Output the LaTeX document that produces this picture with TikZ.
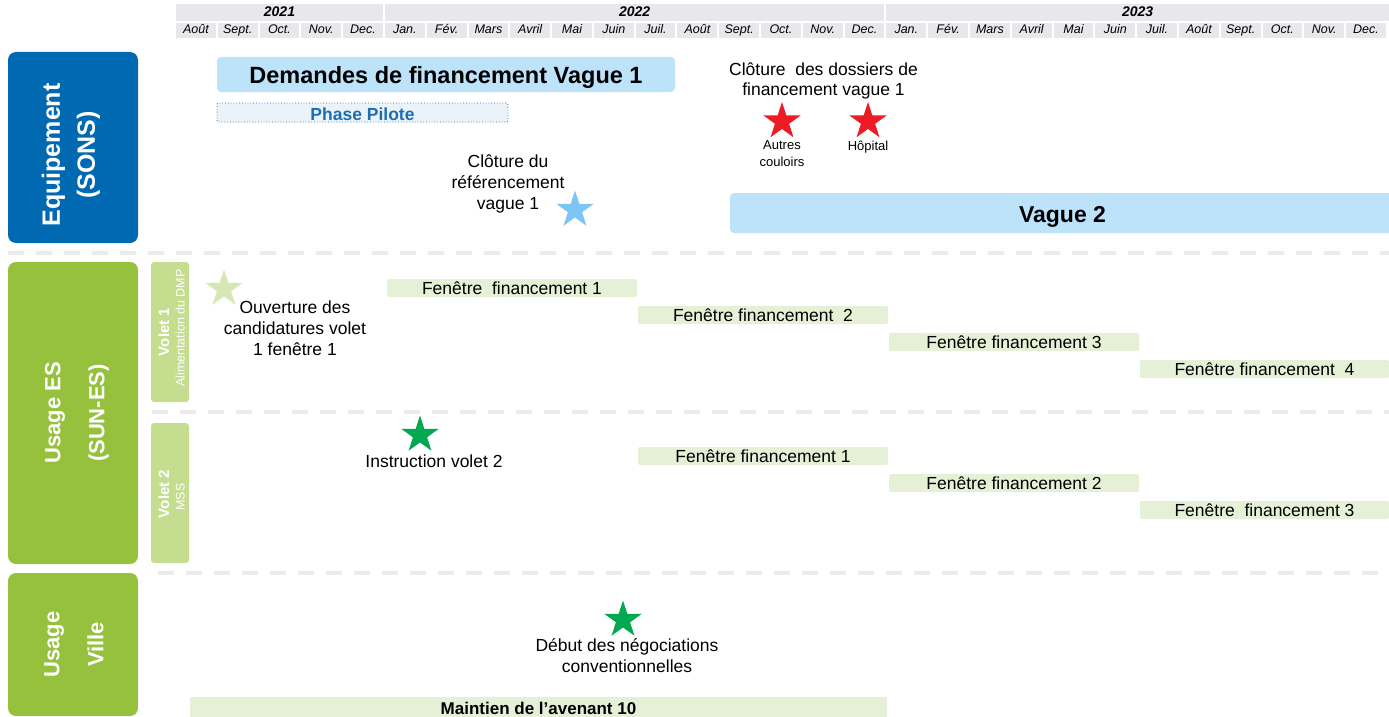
\documentclass[tikz,border=0pt]{standalone}
\usepackage{fontspec}
\setmainfont{Liberation Sans}
\usetikzlibrary{shapes.geometric}
\definecolor{eqblue}{RGB}{0,105,178}
\definecolor{esgreen}{RGB}{150,193,61}
\definecolor{voletgreen}{RGB}{196,221,143}
\definecolor{barblue}{RGB}{189,227,251}
\definecolor{bargreen}{RGB}{230,240,215}
\definecolor{hdrgray}{RGB}{231,231,236}
\definecolor{pilotblue}{RGB}{26,110,180}
\definecolor{pilotfill}{RGB}{236,243,248}
\definecolor{starblue}{RGB}{125,197,245}
\definecolor{starred}{RGB}{237,28,36}
\definecolor{starlight}{RGB}{214,230,181}
\definecolor{stargreen}{RGB}{0,168,80}
\definecolor{sepgray}{RGB}{235,235,235}
\newcommand{\fs}[2]{\fontsize{#1}{#2}\selectfont}
\begin{document}
\begin{tikzpicture}[x=1pt,y=-1pt,
  hcell/.style={fill=hdrgray, inner sep=0pt, outer sep=0pt},
  monthlbl/.style={hcell, minimum width=39.8pt, minimum height=15.5pt, text height=9pt, text depth=2.5pt, font=\fs{12.5}{14}\itshape},
  yearlbl/.style={hcell, minimum height=17pt, text height=10pt, text depth=1pt, font=\fs{14}{16}\bfseries\itshape},
  lanebox/.style={rounded corners=8pt, inner sep=0pt, minimum width=130pt},
  lanetext/.style={inner sep=0pt, text=white, align=center, rotate=90},
  volet/.style={fill=voletgreen, rounded corners=3pt, inner sep=0pt, minimum width=38pt},
  vtitle/.style={text=white, font=\fs{15}{16}\bfseries, rotate=90, anchor=base, inner sep=0pt},
  vsub/.style={text=white, font=\fs{12.5}{13}, rotate=90, anchor=base, inner sep=0pt},
  bbar/.style={fill=barblue, rounded corners=4pt, inner sep=0pt, font=\fs{23.5}{26}\bfseries},
  fbar/.style={fill=bargreen, rounded corners=2pt, inner sep=0pt, minimum height=18pt, font=\fs{17.5}{20}},
  txt/.style={align=center, inner sep=0pt, font=\fs{17.5}{21}},
  smalltxt/.style={align=center, inner sep=0pt, font=\fs{13}{17}},
  mstar/.style={star, star points=5, star point ratio=2.618, minimum size=39pt, inner sep=0pt, draw=none},
  sepline/.style={draw=sepgray, line width=4pt, dash pattern=on 16pt off 12pt}
]
\useasboundingbox (0,0) rectangle (1389,717);

% separators
\coordinate (s1a) at (8,253);   \coordinate (s1b) at (1389,253);
\coordinate (s2a) at (152,412); \coordinate (s2b) at (1389,412);
\coordinate (s3a) at (158,573); \coordinate (s3b) at (1389,573);
\draw[sepline] (s1a) -- (s1b);
\draw[sepline] (s2a) -- (s2b);
\draw[sepline] (s3a) -- (s3b);

% header
\node[yearlbl, minimum width=207pt]   (y2021) at (279.5,12.5) {2021};
\node[yearlbl, minimum width=499.4pt] (y2022) at (634.7,12.5) {2022};
\node[yearlbl, minimum width=502.6pt] (y2023) at (1137.7,12.5) {2023};
\foreach \m [count=\i from 0] in {Août,Sept.,Oct.,Nov.,Dec.,Jan.,Fév.,Mars,Avril,Mai,Juin,Juil.,Août,Sept.,Oct.,Nov.,Dec.,Jan.,Fév.,Mars,Avril,Mai,Juin,Juil.,Août,Sept.,Oct.,Nov.,Dec.}
  \node[monthlbl] (m\i) at ({176+41.79*\i+19.9},30.4) {\m};

% lanes
\node[lanebox, fill=eqblue,  minimum height=191pt] (eq)  at (73,147.5) {};
\node[lanebox, fill=esgreen, minimum height=302pt] (ues) at (73,413) {};
\node[lanebox, fill=esgreen, minimum height=143pt] (uv)  at (73,644.5) {};
\node[lanetext, font=\fs{25}{35}\bfseries] (eqt)  at (71,155) {Equipement\\(SONS)};
\node[lanetext, font=\fs{22}{44}\bfseries] (uest) at (77,413) {Usage ES\\(SUN-ES)};
\node[lanetext, font=\fs{22}{44}\bfseries] (uvt)  at (74,644.5) {Usage\\Ville};
\node[volet, minimum height=140pt] (v1) at (170,332) {};
\node[volet, minimum height=140pt] (v2) at (170,493) {};
\node[vtitle] (v1t) at (169,332) {Volet 1};
\node[vsub]   (v1s) at (184.5,328) {Alimentation du DMP};
\node[vtitle] (v2t) at (169,494) {Volet 2};
\node[vsub]   (v2s) at (184.5,497) {MSS};

% Equipement row
\node[bbar, minimum width=458pt, minimum height=35pt, text height=17.6pt, text depth=0pt] (dem) at (446,74.5) {Demandes de financement Vague 1};
\node[draw=pilotblue, dotted, line width=0.8pt, fill=pilotfill, rounded corners=2pt, inner sep=0pt,
      minimum width=291pt, minimum height=19pt, text height=15pt, text depth=0pt, text=pilotblue, font=\fs{17.5}{20}\bfseries] (pil) at (362.5,112.5) {Phase Pilote};
\node[txt] (clo1) at (508,184) {Clôture du\\référencement\\vague 1};
\node[mstar, fill=starblue] (sb) at (575,210) {};
\node[txt, font=\fs{17.5}{20}] (clo2) at (823.5,80.5) {Clôture\ \ des dossiers de\\financement vague 1};
\node[mstar, fill=starred] (sr1) at (782,121.5) {};
\node[mstar, fill=starred] (sr2) at (868,121.5) {};
\node[smalltxt] (aut) at (782,154) {Autres\\couloirs};
\node[smalltxt] (hop) at (868,147.5) {Hôpital};
\node[bbar, font=\fs{23}{26}\bfseries, minimum width=665pt, minimum height=40pt, text height=18pt, text depth=0pt] (vg2) at (1062.5,213) {Vague 2};

% Volet 1 row
\node[mstar, fill=starlight] (sl) at (224,289) {};
\node[txt] (ouv) at (295,328) {Ouverture des\\candidatures volet\\1 fenêtre 1};
\node[fbar, minimum width=250pt] (a1) at (512,288) {Fenêtre\ \ financement 1};
\node[fbar, minimum width=250pt] (a2) at (763,315) {Fenêtre financement\ \ 2};
\node[fbar, minimum width=250pt] (a3) at (1014,342) {Fenêtre financement 3};
\node[fbar, minimum width=249pt] (a4) at (1264.5,369) {Fenêtre financement\ \ 4};

% Volet 2 row
\node[mstar, fill=stargreen] (sg1) at (420,435) {};
\node[txt] (ins) at (434,461) {Instruction volet 2};
\node[fbar, minimum width=250pt] (b1) at (763,456) {Fenêtre financement 1};
\node[fbar, minimum width=250pt] (b2) at (1014,483) {Fenêtre financement 2};
\node[fbar, minimum width=249pt] (b3) at (1264.5,510) {Fenêtre\ \ financement 3};

% Usage Ville row
\node[mstar, fill=stargreen] (sg2) at (623,620) {};
\node[txt] (deb) at (627,656) {Début des négociations\\conventionnelles};
\node[fbar, minimum width=697pt, minimum height=22pt, font=\fs{17}{20}\bfseries] (mai) at (538.5,708) {Maintien de l’avenant 10};
\end{tikzpicture}
\end{document}
